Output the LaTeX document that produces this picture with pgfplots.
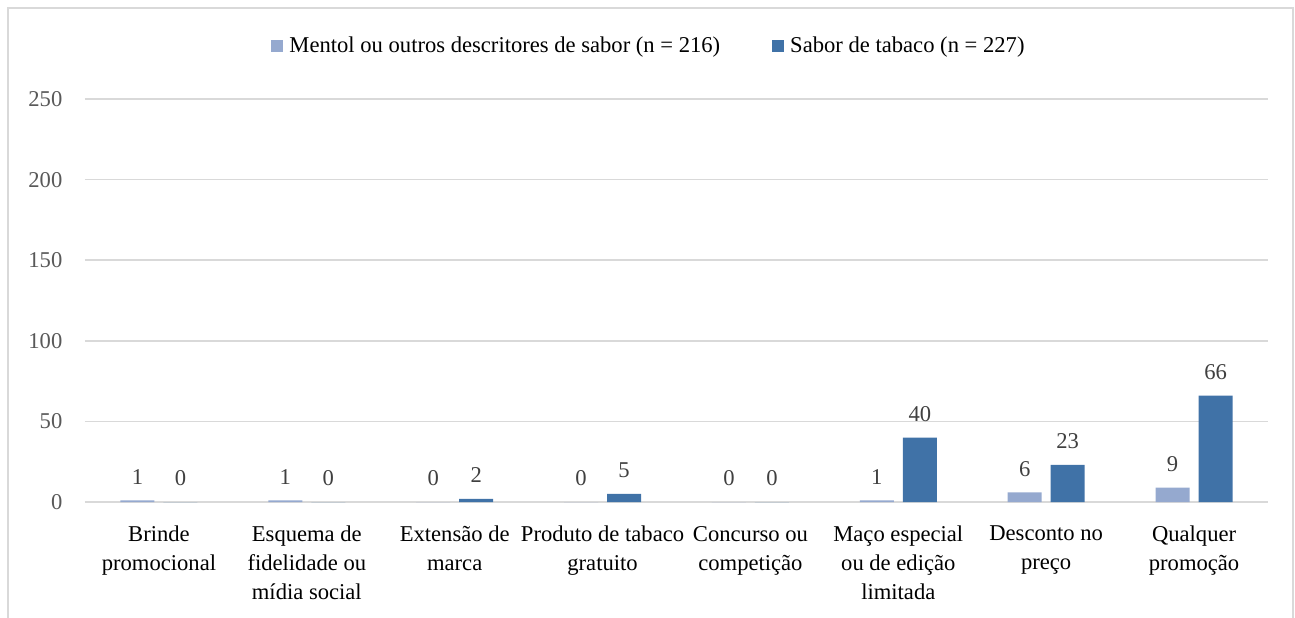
\documentclass[border=0pt]{standalone}
\usepackage{pgfplots}
\pgfplotsset{compat=1.18}
\usepackage{fontspec}
\setmainfont{Liberation Serif}
\definecolor{lightbar}{RGB}{149,169,207}
\definecolor{darkbar}{RGB}{64,114,167}
\definecolor{gridc}{RGB}{217,217,217}
\definecolor{ticklab}{RGB}{89,89,89}
\definecolor{vallab}{RGB}{64,64,64}
\begin{document}
\begin{tikzpicture}[x=1pt,y=1pt]
\useasboundingbox (-42.5,-57.5) rectangle (605,251);
\draw[gridc, line width=0.8pt] (-38.5,-80) rectangle (604,247);
\begin{axis}[
  at={(0,0)}, anchor=south west, scale only axis,
  width=591.5pt, height=201.5pt,
  ybar=4.5pt, bar width=17pt,
  xmin=-0.5, xmax=7.5, ymin=0, ymax=250,
  ytick={0,50,100,150,200,250},
  xtick={0,1,2,3,4,5,6,7},
  xticklabels={{Brinde\\promocional},{Esquema de\\fidelidade ou\\mídia social},{Extensão de\\marca},{Produto de tabaco\\gratuito},{Concurso ou\\competição},{Maço especial\\ou de edição\\limitada},{Desconto no\\preço},{Qualquer\\promoção}},
  xticklabel style={align=center, font=\fontsize{11.3}{14.5}\selectfont, text=black, yshift=-8.5pt},
  yticklabel style={font=\fontsize{11.3}{13}\selectfont, text=ticklab, xshift=-7.8pt},
  /pgf/number format/assume math mode=true,
  axis line style={draw=none},
  major tick length=0pt,
  ymajorgrids, grid style={gridc, line width=0.8pt},
  clip=false,
  nodes near coords,
  every node near coord/.append style={font=\fontsize{11.3}{13}\selectfont, text=vallab, yshift=4.5pt},
  legend style={at={(0.4776,1.1315)}, anchor=center, draw=none, fill=none,
    font=\fontsize{11.3}{13}\selectfont, legend columns=2,
    /tikz/every odd column/.append style={column sep=1pt},
    /tikz/every even column/.append style={column sep=24pt},
    inner sep=0pt},
]
\addplot[fill=lightbar, draw=none, legend image code/.code={\fill[lightbar] (0pt,-3pt) rectangle (6pt,3pt);}] coordinates {(0,1) (1,1) (2,0) (3,0) (4,0) (5,1) (6,6) (7,9)};
\addplot[fill=darkbar, draw=none, legend image code/.code={\fill[darkbar] (0pt,-3pt) rectangle (6pt,3pt);}] coordinates {(0,0) (1,0) (2,2) (3,5) (4,0) (5,40) (6,23) (7,66)};
\legend{Mentol ou outros descritores de sabor (n = 216), Sabor de tabaco (n = 227)}
\end{axis}
\end{tikzpicture}
\end{document}
